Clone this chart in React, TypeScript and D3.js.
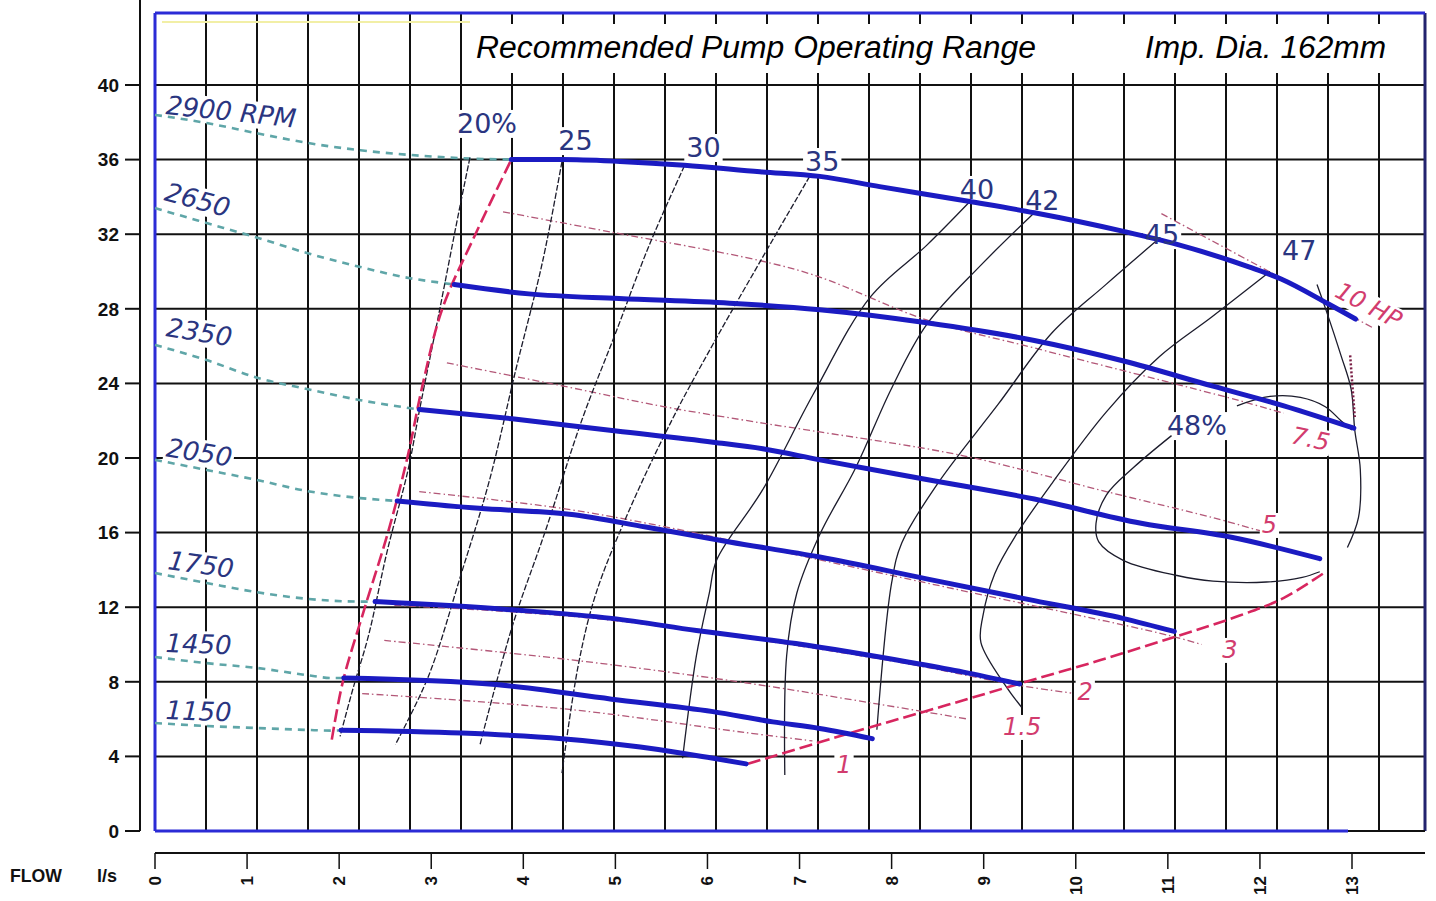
import React, { useRef, useEffect } from 'react';
import * as d3 from 'd3';

const WIDTH = 1436;
const HEIGHT = 901;

// plot frame in px
const frame = { left: 155, right: 1425, top: 13, bottom: 831 };

const flowTicks = [0, 1, 2, 3, 4, 5, 6, 7, 8, 9, 10, 11, 12, 13];
const headTicks = [0, 4, 8, 12, 16, 20, 24, 28, 32, 36, 40];
// the background grid runs every 2 m3/h
const gridFlowM3h = [2, 4, 6, 8, 10, 12, 14, 16, 18, 20, 22, 24, 26, 28, 30, 32, 34, 36, 38, 40, 42, 44, 46, 48];

// speed curves (flow l/s, head m)
const speedNames = ['2900 RPM', '2650', '2350', '2050', '1750', '1450', '1150'];
const speedFlow = [
  [3.87, 4.42, 5.05, 5.75, 6.57, 7.22, 7.87, 8.85, 9.55, 10.52, 11.1, 11.88, 12.23, 12.73, 13.04],
  [3.25, 4.06, 5.04, 6.24, 7.22, 8.38, 9.55, 10.52, 11.49, 12.26, 13.02],
  [2.87, 3.88, 5.01, 6.06, 6.6, 7.22, 8.38, 9.55, 10.71, 11.69, 12.65],
  [2.63, 3.52, 4.5, 5.33, 6.24, 7.22, 8.38, 9.55, 10.52, 11.07],
  [2.39, 3.88, 4.96, 5.88, 6.96, 8.19, 8.78, 9.39],
  [2.05, 3.7, 4.96, 6.06, 6.71, 7.22, 7.79],
  [2.02, 3.33, 4.42, 5.27, 5.69, 6.0, 6.42],
];
const speedHead = [
  [36.0, 36.0, 35.9, 35.7, 35.35, 35.1, 34.55, 33.75, 33.15, 32.15, 31.45, 30.25, 29.6, 28.3, 27.45],
  [29.3, 28.8, 28.55, 28.3, 27.95, 27.25, 26.3, 25.2, 23.85, 22.8, 21.6],
  [22.6, 22.1, 21.45, 20.85, 20.5, 19.9, 18.85, 17.8, 16.5, 15.75, 14.6],
  [17.7, 17.3, 16.98, 16.3, 15.5, 14.69, 13.52, 12.35, 11.39, 10.7],
  [12.3, 11.86, 11.4, 10.75, 10.05, 9.05, 8.52, 7.88],
  [8.2, 7.85, 7.07, 6.4, 5.85, 5.5, 4.95],
  [5.4, 5.25, 4.95, 4.5, 4.2, 3.95, 3.6],
];

// dashed shut-off extensions back to zero flow
const shutoffFlow = [
  [0, 0.56, 1.12, 1.65, 2.23, 2.77, 3.31, 3.87],
  [0, 0.56, 1.12, 1.65, 2.23, 2.77, 3.13, 3.25],
  [0, 0.56, 1.11, 1.65, 2.23, 2.87],
  [0, 0.56, 1.11, 1.65, 2.23, 2.63],
  [0, 0.56, 1.11, 1.65, 2.23, 2.39],
  [0, 0.56, 1.11, 1.65, 1.93, 2.05],
  [0, 0.56, 1.11, 1.65, 1.93, 2.02],
];
const shutoffHead = [
  [38.4, 37.96, 37.4, 36.9, 36.5, 36.25, 36.08, 36.0],
  [33.4, 32.6, 31.8, 30.99, 30.24, 29.64, 29.38, 29.3],
  [26.06, 25.25, 24.3, 23.7, 23.1, 22.6],
  [19.9, 19.36, 18.82, 18.23, 17.85, 17.7],
  [13.83, 13.3, 12.8, 12.45, 12.3, 12.3],
  [9.33, 9.0, 8.74, 8.36, 8.2, 8.2],
  [5.79, 5.63, 5.52, 5.42, 5.38, 5.4],
];
const rpmLabelFlow = [0.11, 0.09, 0.11, 0.11, 0.13, 0.11, 0.11];
const rpmLabelHead = [38.45, 33.83, 26.54, 20.1, 14.05, 9.6, 6.0];
const rpmLabelAngle = [6, 15, 9, 9, 8, 2, 2];

// recommended operating range limits
const minFlowQ = [1.92, 2.04, 2.28, 2.53, 2.74, 2.91, 3.12, 3.48, 3.87];
const minFlowH = [4.9, 8.0, 12.0, 16.0, 20.0, 24.0, 28.0, 32.0, 36.0];
const maxFlowQ = [6.44, 7.57, 8.6, 9.39, 10.26, 11.1, 11.78, 12.26, 12.73];
const maxFlowH = [3.6, 5.28, 6.75, 7.9, 9.15, 10.45, 11.55, 12.5, 13.95];

// iso-efficiency lines
const effNames = ['20%', '25', '30', '35', '40', '42', '45', '47'];
const effFlow = [
  [3.42, 3.3, 3.08, 2.88, 2.75, 2.52, 2.32, 2.15, 2.01],
  [4.42, 4.21, 3.92, 3.63, 3.33, 2.97, 2.61],
  [5.75, 5.37, 4.99, 4.64, 4.24, 3.88, 3.53],
  [7.11, 6.6, 6.06, 5.62, 5.15, 4.79, 4.6, 4.42],
  [8.85, 8.38, 7.77, 7.15, 6.6, 6.1, 6.02, 5.88, 5.73],
  [9.55, 8.97, 8.38, 8.0, 7.61, 7.22, 6.97, 6.86, 6.84],
  [10.87, 10.32, 9.74, 9.16, 8.5, 8.11, 8.0, 7.84],
  [12.11, 11.48, 10.91, 10.33, 9.74, 9.35, 9.12, 8.99, 8.97, 9.25, 9.41],
];
const effHead = [
  [36.1, 33.2, 27.66, 22.76, 19.4, 14.97, 10.5, 7.63, 5.07],
  [35.9, 30.55, 24.76, 18.76, 13.86, 8.3, 4.63],
  [35.67, 31.44, 26.54, 22.09, 16.09, 10.97, 4.63],
  [35.1, 30.77, 26.1, 22.09, 17.2, 12.75, 8.97, 3.1],
  [33.75, 31.4, 28.64, 23.43, 18.3, 14.53, 12.75, 9.4, 3.9],
  [33.15, 30.34, 27.15, 23.74, 19.48, 15.9, 12.75, 9.4, 3.0],
  [31.62, 29.27, 26.7, 22.9, 18.63, 15.44, 13.3, 5.43],
  [30.0, 27.57, 25.44, 22.46, 18.63, 15.86, 13.8, 11.5, 10.1, 7.7, 6.65],
];
const effDashed = [true, true, true, true, false, false, false, false];
const effLabelFlow = [3.28, 4.38, 5.77, 7.06, 8.74, 9.45, 10.75, 12.24];
const effLabelHead = [37.43, 36.51, 36.14, 35.39, 33.89, 33.3, 31.47, 30.62];

// 48% island
const peakTopQ = [11.75, 12.11, 12.44, 12.71, 12.88, 13.0];
const peakTopH = [22.8, 23.3, 23.25, 22.75, 22.0, 21.5];
const peakBottomQ = [11.04, 10.63, 10.33, 10.22, 10.25, 10.52, 11.1, 11.49, 12.07, 12.46, 12.65];
const peakBottomH = [21.2, 19.5, 18.0, 16.5, 15.5, 14.5, 13.7, 13.4, 13.35, 13.6, 13.9];
const peakLabel = { name: '48%', flow: 10.99, head: 21.23 };

// right hand boundary
const edgeQ = [12.62, 12.72, 12.88, 12.99, 13.03, 13.09, 13.07, 12.95];
const edgeH = [29.3, 27.9, 25.5, 23.7, 21.5, 19.4, 16.8, 15.2];
const edgeDotQ = [12.98, 13.03];
const edgeDotH = [25.5, 22.2];

// absorbed power lines (HP)
const powerNames = ['10 HP', '7.5', '5', '3', '2', '1.5', '1'];
const powerFlow = [
  [10.93, 12.1, 13.22],
  [3.78, 4.97, 6.6, 7.22, 8.38, 9.55, 11.76, 12.26],
  [3.17, 4.42, 5.52, 6.6, 7.22, 8.78, 10.33, 11.49, 12.0],
  [2.87, 4.42, 5.5, 6.6, 7.77, 8.9, 10.0, 11.0, 11.37],
  [2.6, 3.88, 4.96, 5.88, 6.96, 8.19, 9.39, 9.95],
  [2.49, 4.48, 6.41, 7.86, 8.83],
  [2.25, 4.48, 6.41, 7.14],
];
const powerHead = [
  [33.1, 30.0, 27.0],
  [33.2, 32.1, 30.55, 29.7, 27.4, 25.9, 23.1, 22.4],
  [25.1, 23.87, 22.76, 21.87, 21.4, 20.12, 18.2, 16.8, 16.1],
  [18.2, 17.3, 16.35, 15.2, 13.95, 12.75, 11.6, 10.5, 10.0],
  [12.1, 11.75, 11.3, 10.7, 9.95, 8.95, 7.8, 7.4],
  [10.22, 9.2, 7.95, 6.8, 6.0],
  [7.37, 6.53, 5.28, 4.83],
];
const powerLabelFlow = [12.8, 12.33, 12.02, 11.59, 10.02, 9.21, 7.4];
const powerLabelHead = [28.69, 20.8, 15.98, 9.28, 7.02, 5.15, 3.11];
const powerLabelAngle = [28, 12, 0, 0, 0, 0, 0];

const colors = {
  grid: '#111',
  frame: '#2b2bd6',
  speed: '#1b1bc2',
  shutoff: '#5fa6a8',
  limit: '#d7265f',
  eff: '#1c1c2c',
  power: '#b35878',
  navy: '#2a3580',
  pink: '#d23c6e',
};

const FONT = '"DejaVu Sans", sans-serif';
const AXIS_FONT = '"Liberation Sans", Arial, sans-serif';

export default function App(): React.ReactElement {
  const svgRef = useRef<SVGSVGElement>(null);

  useEffect(() => {
    if (!svgRef.current) return;
    const svg = d3.select(svgRef.current);
    svg.selectAll('*').remove();

    const x = d3.scaleLinear().domain([0, 13]).range([155, 1352]);
    const y = d3.scaleLinear().domain([0, 40]).range([831, 85]);
    const xGrid = d3.scaleLinear().domain([0, 48]).range([155, 1379]);

    const path = (qs: number[], hs: number[], curve: d3.CurveFactory = d3.curveCatmullRom) =>
      d3.line<number>()
        .x((_, i) => x(qs[i]))
        .y((_, i) => y(hs[i]))
        .curve(curve)(qs) as string;

    svg.append('rect').attr('width', WIDTH).attr('height', HEIGHT).attr('fill', '#fff');

    // grid
    const grid = svg.append('g');
    headTicks.filter((h) => h > 0).forEach((h) => {
      grid.append('line')
        .attr('x1', frame.left).attr('x2', frame.right)
        .attr('y1', y(h)).attr('y2', y(h))
        .attr('stroke', colors.grid).attr('stroke-width', 2);
    });
    gridFlowM3h.forEach((v) => {
      grid.append('line')
        .attr('x1', xGrid(v)).attr('x2', xGrid(v))
        .attr('y1', frame.top).attr('y2', frame.bottom)
        .attr('stroke', colors.grid).attr('stroke-width', 2);
    });
    // faint yellow line under top frame
    grid.append('line')
      .attr('x1', 162).attr('x2', 470).attr('y1', 22).attr('y2', 22)
      .attr('stroke', '#f2efa6').attr('stroke-width', 2);

    // frame
    const fr = svg.append('g');
    fr.append('line').attr('x1', frame.right).attr('x2', frame.right)
      .attr('y1', frame.top).attr('y2', frame.bottom)
      .attr('stroke', '#23236e').attr('stroke-width', 3);
    fr.append('line').attr('x1', 1348).attr('x2', frame.right)
      .attr('y1', frame.bottom).attr('y2', frame.bottom)
      .attr('stroke', '#111').attr('stroke-width', 2);
    fr.append('line').attr('x1', frame.left).attr('x2', frame.right)
      .attr('y1', frame.top).attr('y2', frame.top)
      .attr('stroke', colors.frame).attr('stroke-width', 3);
    fr.append('line').attr('x1', frame.left).attr('x2', frame.left)
      .attr('y1', frame.top).attr('y2', frame.bottom)
      .attr('stroke', colors.frame).attr('stroke-width', 3);
    fr.append('line').attr('x1', frame.left).attr('x2', 1348)
      .attr('y1', frame.bottom).attr('y2', frame.bottom)
      .attr('stroke', colors.frame).attr('stroke-width', 3);

    const bgLayer = svg.append('g');
    const curveLayer = svg.append('g');
    const textLayer = svg.append('g');

    // label with a white box behind it that hides the grid
    const addLabel = (text: string, px: number, py: number, angle: number,
      size: number, color: string, italic: boolean) => {
      const tr = `translate(${px},${py}) rotate(${angle})`;
      const t = textLayer.append('text')
        .attr('transform', tr)
        .attr('font-family', FONT)
        .attr('font-size', size)
        .attr('font-style', italic ? 'italic' : 'normal')
        .attr('fill', color)
        .text(text);
      const bb = (t.node() as SVGTextElement).getBBox();
      bgLayer.append('rect')
        .attr('transform', tr)
        .attr('x', bb.x - 2).attr('y', bb.y + 2)
        .attr('width', bb.width + 4).attr('height', bb.height - 3)
        .attr('fill', '#fff');
    };

    // title box
    bgLayer.append('rect').attr('x', 465).attr('y', 24).attr('width', 958).attr('height', 49).attr('fill', '#fff');
    textLayer.append('text').attr('x', 476).attr('y', 58)
      .attr('font-family', AXIS_FONT).attr('font-size', 31).attr('font-style', 'italic')
      .attr('textLength', 560).attr('lengthAdjust', 'spacingAndGlyphs')
      .text('Recommended Pump Operating Range');
    textLayer.append('text').attr('x', 1145).attr('y', 58)
      .attr('font-family', AXIS_FONT).attr('font-size', 31).attr('font-style', 'italic')
      .attr('textLength', 241).attr('lengthAdjust', 'spacingAndGlyphs')
      .text('Imp. Dia. 162mm');

    // power lines
    powerNames.forEach((_, i) => {
      curveLayer.append('path')
        .attr('d', path(powerFlow[i], powerHead[i]))
        .attr('fill', 'none').attr('stroke', colors.power)
        .attr('stroke-width', 1.3).attr('stroke-dasharray', '7,3,1.5,3');
    });

    // shut-off extensions
    speedNames.forEach((_, i) => {
      curveLayer.append('path')
        .attr('d', path(shutoffFlow[i], shutoffHead[i], d3.curveMonotoneX))
        .attr('fill', 'none').attr('stroke', colors.shutoff)
        .attr('stroke-width', 2.6).attr('stroke-dasharray', '7,6');
    });

    // efficiency lines
    effNames.forEach((_, i) => {
      curveLayer.append('path')
        .attr('d', path(effFlow[i], effHead[i]))
        .attr('fill', 'none').attr('stroke', colors.eff)
        .attr('stroke-width', 1.3)
        .attr('stroke-dasharray', effDashed[i] ? '6,2' : null);
    });
    [[peakTopQ, peakTopH], [peakBottomQ, peakBottomH], [edgeQ, edgeH]].forEach(([qs, hs]) => {
      curveLayer.append('path')
        .attr('d', path(qs, hs))
        .attr('fill', 'none').attr('stroke', colors.eff).attr('stroke-width', 1.3);
    });
    curveLayer.append('path')
      .attr('d', path(edgeDotQ, edgeDotH, d3.curveLinear))
      .attr('fill', 'none').attr('stroke', '#7a1f45').attr('stroke-width', 2.5)
      .attr('stroke-dasharray', '2,2');

    // operating range limits
    [[minFlowQ, minFlowH], [maxFlowQ, maxFlowH]].forEach(([qs, hs]) => {
      curveLayer.append('path')
        .attr('d', path(qs, hs))
        .attr('fill', 'none').attr('stroke', colors.limit)
        .attr('stroke-width', 2.6).attr('stroke-dasharray', '13,5');
    });

    // speed curves
    speedNames.forEach((_, i) => {
      curveLayer.append('path')
        .attr('d', path(speedFlow[i], speedHead[i], d3.curveMonotoneX))
        .attr('fill', 'none').attr('stroke', colors.speed)
        .attr('stroke-width', 5).attr('stroke-linecap', 'round');
    });

    // labels
    speedNames.forEach((name, i) => {
      addLabel(name, x(rpmLabelFlow[i]), y(rpmLabelHead[i]), rpmLabelAngle[i], 26, colors.navy, true);
    });
    effNames.forEach((name, i) => {
      addLabel(name, x(effLabelFlow[i]), y(effLabelHead[i]), 0, 27, colors.navy, false);
    });
    addLabel(peakLabel.name, x(peakLabel.flow), y(peakLabel.head), 0, 27, colors.navy, false);
    powerNames.forEach((name, i) => {
      addLabel(name, x(powerLabelFlow[i]), y(powerLabelHead[i]), powerLabelAngle[i], 24, colors.pink, true);
    });

    // head axis
    const yAxis = svg.append('g');
    yAxis.append('line').attr('x1', 140).attr('x2', 140).attr('y1', 0).attr('y2', frame.bottom)
      .attr('stroke', '#111').attr('stroke-width', 2);
    headTicks.forEach((h) => {
      yAxis.append('line').attr('x1', 125).attr('x2', 140).attr('y1', y(h)).attr('y2', y(h))
        .attr('stroke', '#111').attr('stroke-width', 2);
      yAxis.append('text').attr('x', 119).attr('y', y(h)).attr('dy', '0.36em')
        .attr('text-anchor', 'end').attr('font-family', AXIS_FONT)
        .attr('font-weight', 700).attr('font-size', 19).attr('fill', '#111')
        .text(h);
    });

    // flow axis
    const xAxis = svg.append('g');
    xAxis.append('line').attr('x1', frame.left).attr('x2', frame.right).attr('y1', 853).attr('y2', 853)
      .attr('stroke', '#111').attr('stroke-width', 2);
    flowTicks.forEach((q) => {
      xAxis.append('line').attr('x1', x(q)).attr('x2', x(q)).attr('y1', 853).attr('y2', 869)
        .attr('stroke', '#111').attr('stroke-width', 1.5);
      xAxis.append('text')
        .attr('transform', `translate(${x(q) + 6},876) rotate(-90)`)
        .attr('text-anchor', 'end').attr('font-family', AXIS_FONT)
        .attr('font-weight', 700).attr('font-size', 17).attr('fill', '#111')
        .text(q);
    });
    xAxis.append('text').attr('x', 10).attr('y', 882)
      .attr('font-family', AXIS_FONT).attr('font-weight', 700).attr('font-size', 18)
      .attr('textLength', 52).attr('lengthAdjust', 'spacingAndGlyphs').attr('fill', '#111')
      .text('FLOW');
    xAxis.append('text').attr('x', 97).attr('y', 882)
      .attr('font-family', AXIS_FONT).attr('font-weight', 700).attr('font-size', 18).attr('fill', '#111')
      .text('l/s');
  }, []);

  return (
    <svg
      ref={svgRef}
      width={WIDTH}
      height={HEIGHT}
      style={{ position: 'absolute', left: 0, top: 0, display: 'block' }}
    />
  );
}
